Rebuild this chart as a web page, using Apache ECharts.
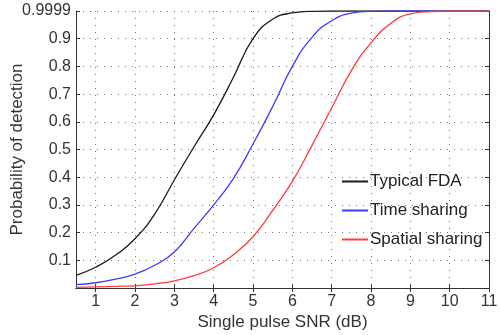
<!DOCTYPE html>
<html><head><meta charset="utf-8">
<script src="https://cdn.jsdelivr.net/npm/echarts@6/dist/echarts.min.js"></script>
<style>html,body{margin:0;padding:0;background:#fff}#c{width:500px;height:335px}</style>
</head><body><div id="c"></div>
<script>
const snr = [0.5,1,1.5,2,2.5,3,3.5,4,4.5,5,5.5,6,6.5,7,7.5,8,8.5,9,9.5,10,10.5,11];
const typicalFDA = [0.046,0.075,0.118,0.178,0.267,0.39,0.51,0.625,0.76,0.9,0.97,0.993,0.999,1,1,1,1,1,1,1,1,1];
const timeSharing = [0.012,0.019,0.032,0.05,0.082,0.13,0.215,0.3,0.395,0.52,0.655,0.8,0.905,0.965,0.992,0.999,1,1,1,1,1,1];
const spatialSharing = [0.002,0.004,0.006,0.008,0.015,0.026,0.045,0.073,0.12,0.185,0.28,0.385,0.515,0.65,0.785,0.885,0.955,0.99,0.998,1,1,1];
const xTicks = [1,2,3,4,5,6,7,8,9,10,11];
const seriesNames = ['Typical FDA','Time sharing','Spatial sharing'];
const colors = ['#1a1a1a','#3b3bff','#ff3b3b'];

const font = 'Liberation Sans, Arial, sans-serif';
const fs = 17;
const chart = echarts.init(document.getElementById('c'));
const pair = a => snr.map((x,i)=>[x,a[i]]);
const grid = {left:76,right:11,top:11,bottom:47,containLabel:false,outerBoundsMode:'none'};
const axisLine = {show:true,lineStyle:{color:'#333',width:1}};
const split = {show:true,lineStyle:{color:'#777',type:[1,6],width:1}};
chart.setOption({
  animation:false,
  grid:grid,
  xAxis:[{
    type:'value',min:0.5,max:11,position:'bottom',
    axisLine:axisLine,
    axisTick:{show:true,inside:true,length:4,customValues:xTicks,lineStyle:{color:'#333'}},
    axisLabel:{customValues:xTicks,color:'#333',fontSize:16,fontFamily:font,margin:6},
    splitLine:split,
    name:'Single pulse SNR (dB)',nameLocation:'middle',nameGap:26,nameMoveOverlap:false,
    nameTextStyle:{color:'#333',fontSize:fs,fontFamily:font}
  },{
    type:'value',min:0.5,max:11,position:'top',
    axisLine:axisLine,
    axisTick:{show:true,inside:true,length:4,customValues:xTicks,lineStyle:{color:'#333'}},
    axisLabel:{show:false},splitLine:{show:false}
  }],
  yAxis:[{
    type:'value',min:0,max:1,interval:0.1,position:'left',
    axisLine:axisLine,
    axisTick:{show:true,inside:true,length:4,lineStyle:{color:'#333'}},
    axisLabel:{color:'#333',fontSize:16,fontFamily:font,margin:5,
      formatter:v=>{ if(Math.abs(v)<1e-9) return ''; if(Math.abs(v-1)<1e-9) return '0.9999'; return v.toFixed(1);}},
    splitLine:split,
    name:'Probability of detection',nameLocation:'middle',nameGap:50,nameMoveOverlap:false,
    nameTextStyle:{color:'#333',fontSize:fs,fontFamily:font}
  },{
    type:'value',min:0,max:1,interval:0.1,position:'right',
    axisLine:axisLine,
    axisTick:{show:true,inside:true,length:4,lineStyle:{color:'#333'}},
    axisLabel:{show:false},splitLine:{show:false}
  }],
  legend:{
    orient:'vertical',left:337,top:168,itemWidth:26,itemHeight:2,itemGap:12,icon:'rect',
    textStyle:{color:'#222',fontSize:fs,fontFamily:font,padding:[0,0,0,-3]},
    data:seriesNames
  },
  series:[typicalFDA,timeSharing,spatialSharing].map((d,i)=>({
    name:seriesNames[i],type:'line',data:pair(d),smooth:0.5,symbol:'none',
    xAxisIndex:0,yAxisIndex:0,
    lineStyle:{color:colors[i],width:1.3},itemStyle:{color:colors[i]}
  }))
});
</script></body></html>
